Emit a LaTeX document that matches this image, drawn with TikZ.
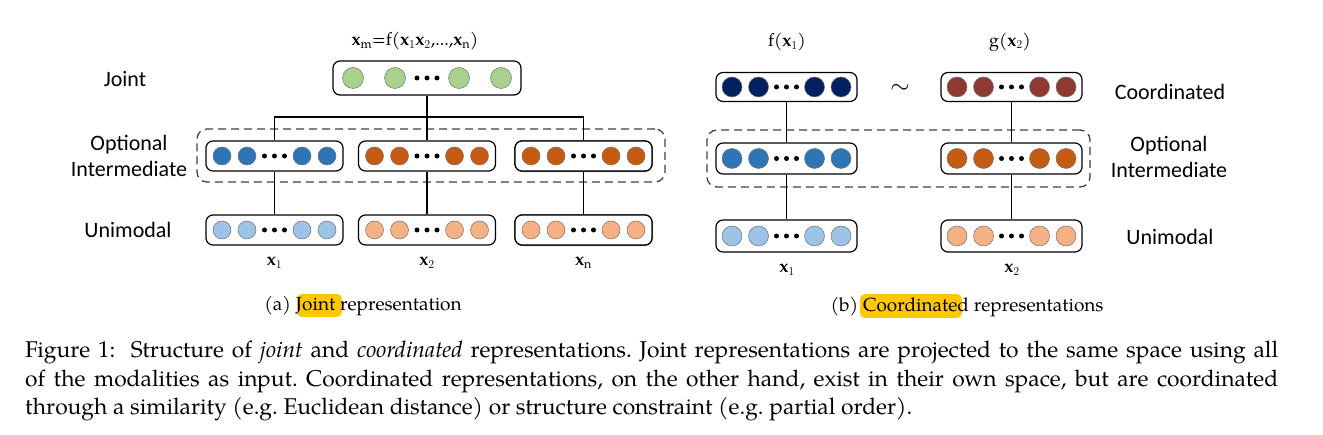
\documentclass[tikz,border=0pt]{standalone}
\usepackage{fontspec}
\setmainfont{TeX Gyre Pagella}
\newfontfamily\labfont{Carlito}
\usetikzlibrary{shadows}
\definecolor{cgreen}{HTML}{A9D18E}
\definecolor{cblue}{HTML}{2E75B6}
\definecolor{corange}{HTML}{C55A11}
\definecolor{clblue}{HTML}{9DC3E6}
\definecolor{clorange}{HTML}{F4B183}
\definecolor{cnavy}{HTML}{002060}
\definecolor{cdred}{HTML}{8E3A33}
\definecolor{hlyellow}{HTML}{FFC800}
\frenchspacing
\tikzset{
  fbox/.style={draw=black, line width=1.2pt, rounded corners=7pt, fill=white, inner sep=0pt},
  dotn/.style={circle, fill=black, inner sep=0pt, minimum size=5pt},
  unit/.style={circle, draw=black!55, line width=0.5pt, inner sep=0pt},
  conn/.style={line width=1.2pt},
  dashbox/.style={draw=black!75, line width=1.3pt, dash pattern=on 8pt off 5pt, rounded corners=10pt, inner sep=0pt},
  lab/.style={font=\labfont\fontsize{22}{26}\selectfont, align=center},
  mlab/.style={font=\fontsize{18}{22}\selectfont},
  sublab/.style={font=\fontsize{19}{23}\selectfont},
  caplab/.style={anchor=base west, inner sep=0pt, font=\fontsize{22.8}{29}\selectfont},
  hl/.style={fill=hlyellow, rounded corners=5pt},
  glow/.style={drop shadow={shadow xshift=1pt, shadow yshift=-1.5pt, fill=blue!25, opacity=0.5}},
}
% #1 name, #2 x, #3 y, #4 w, #5 h, #6 diameter, #7 inner offset, #8 outer offset, #9 fill
\newcommand{\featbox}[9]{%
  \node[fbox, minimum width=#4pt, minimum height=#5pt] (#1) at (#2,#3) {};
  \foreach \o/\k in {-#8/1,-#7/2,#7/3,#8/4}
    \node[unit, fill=#9, minimum size=#6pt] (#1-c\k) at ([xshift=\o pt]#1.center) {};
  \foreach \o/\k in {-10/1,0/2,10/3}
    \node[dotn] (#1-d\k) at ([xshift=\o pt]#1.center) {};
}
\begin{document}
\begin{tikzpicture}[x=1pt,y=-1pt]
\useasboundingbox (0,0) rectangle (1323,435);
% ---------- (a) Joint ----------
\node[dashbox, minimum width=468pt, minimum height=53pt] (dA) at (431,155.5) {};
\node[lab] (lJoint) at (125,79) {Joint};
\node[lab] (lOptA) at (129,156) {Optional\\Intermediate};
\node[lab] (lUniA) at (128,230) {Unimodal};
\node[mlab] (fm) at (415,41) {$\mathbf{x}_{\mathrm{m}}$=f($\mathbf{x}_1\mathbf{x}_2$,...,$\mathbf{x}_{\mathrm{n}}$)};
\coordinate (hA) at (0,117);
\featbox{J}{427}{78}{188}{34}{21}{32}{74}{cgreen}
\node[fbox, glow, minimum width=137pt, minimum height=30pt] (sh1) at (583.5,156) {};
\node[fbox, glow, minimum width=137pt, minimum height=30pt] (sh2) at (583.5,230) {};
\featbox{iA1}{274.5}{156}{137}{30}{18}{27.5}{52.5}{cblue}
\featbox{iA2}{427}{156}{137}{30}{18}{27.5}{52.5}{corange}
\featbox{iA3}{583.5}{156}{137}{30}{18}{27.5}{52.5}{corange}
\featbox{uA1}{274.5}{230}{137}{30}{18}{27.5}{52.5}{clblue}
\featbox{uA2}{427}{230}{137}{30}{18}{27.5}{52.5}{clorange}
\featbox{uA3}{583.5}{230}{137}{30}{18}{27.5}{52.5}{clorange}
\draw[conn] (J.south) -- (iA2.north);
\draw[conn] (iA1.north) -- (iA1.north |- hA) -- (iA3.north |- hA) -- (iA3.north);
\draw[conn] (iA1.south) -- (uA1.north);
\draw[conn] (iA2.south) -- (uA2.north);
\draw[conn] (iA3.south) -- (uA3.north);
\node[mlab] (xA1) at (274.5,263) {$\mathbf{x}_1$};
\node[mlab] (xA2) at (427,263) {$\mathbf{x}_2$};
\node[mlab] (xA3) at (583.5,263) {$\mathbf{x}_{\mathrm{n}}$};
\node[hl, minimum width=45pt, minimum height=23pt] (hlA) at (319.5,305.5) {};
\node[sublab] (capA) at (363,306) {(a) Joint representation};
% ---------- (b) Coordinated ----------
\node[dashbox, minimum width=383pt, minimum height=57pt] (dB) at (898.5,158.5) {};
\node[lab] (lCoord) at (1170,92) {Coordinated};
\node[lab] (lOptB) at (1169,157) {Optional\\Intermediate};
\node[lab] (lUniB) at (1170,237) {Unimodal};
\node[mlab] (fx) at (787,42) {f($\mathbf{x}_1$)};
\node[mlab] (gx) at (1010,42) {g($\mathbf{x}_2$)};
\featbox{cB1}{786.5}{87}{141}{29}{20}{28}{54.5}{cnavy}
\featbox{cB2}{1011.5}{87}{141}{29}{20}{28}{54.5}{cdred}
\featbox{iB1}{786.5}{158.5}{141}{31}{20}{28}{54.5}{cblue}
\featbox{iB2}{1011.5}{158.5}{141}{31}{20}{28}{54.5}{corange}
\featbox{uB1}{786.5}{236}{141}{32}{20}{28}{54.5}{clblue}
\featbox{uB2}{1011.5}{236}{141}{32}{20}{28}{54.5}{clorange}
\node[font=\fontsize{26}{26}\selectfont] (sim) at (900,89) {$\sim$};
\draw[conn] (cB1.south) -- (iB1.north);
\draw[conn] (cB2.south) -- (iB2.north);
\draw[conn] (iB1.south) -- (uB1.north);
\draw[conn] (iB2.south) -- (uB2.north);
\node[mlab] (xB1) at (787,270) {$\mathbf{x}_1$};
\node[mlab] (xB2) at (1012,270) {$\mathbf{x}_2$};
\node[hl, minimum width=102pt, minimum height=24pt] (hlB) at (911,306) {};
\node[sublab] (capB) at (967,307) {(b) Coordinated representations};
% ---------- Figure caption ----------
\node[caplab] (cap1) at (25,358)
  {\makebox[1253pt][s]{Figure 1:\ \ Structure of \emph{joint} and \emph{coordinated} representations. Joint representations are projected to the same space using all}};
\node[caplab] (cap2) at (25,387)
  {\makebox[1253pt][s]{of the modalities as input. Coordinated representations, on the other hand, exist in their own space, but are coordinated}};
\node[caplab] (cap3) at (25,415)
  {through a similarity (e.g. Euclidean distance) or structure constraint (e.g. partial order).};
\end{tikzpicture}
\end{document}
